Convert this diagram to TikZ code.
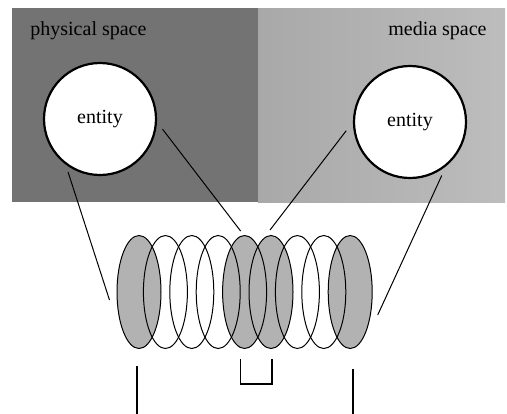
\documentclass[tikz,border=0pt]{standalone}
\usepackage{fontspec}
\setmainfont{Liberation Serif}
\usepackage{tikz}
\usetikzlibrary{shapes.geometric,calc}

\tikzset{
  ring/.style={ellipse,draw,line width=0.5pt,minimum width=22pt,minimum height=56.5pt,inner sep=0pt},
  entity/.style={circle,draw,line width=1.1pt,fill=white,minimum size=56pt,inner sep=0pt,font=\fontsize{10}{12}\selectfont},
  space/.style={font=\fontsize{10}{12}\selectfont,inner sep=0pt},
  link/.style={line width=0.5pt},
  bar/.style={line width=0.8pt},
}

\begin{document}
\begin{tikzpicture}[x=0.5pt,y=-0.5pt]
  \useasboundingbox (0,0) rectangle (507,413);
  % the two spaces
  \path[fill=black!55] (12,8) rectangle (258,202);
  \path[left color=black!34,right color=black!26] (258,8) rectangle (505,202);
  \path[left color=black!31.4,middle color=black!18,right color=black!30.8] (338,8) rectangle (358,202);
  \node[space,anchor=base west] (phys) at (30,35) {physical space};
  \node[space,anchor=base east] (media) at (487,35) {media space};
  \node[entity] (lc) at (100,119) {entity};
  \node[entity] (rc) at (410,122) {entity};
  % slices, shaded ones first
  \foreach \i in {1,5,6,9}{
    \path[fill=black!30] (112.6+26.4*\i, 292) ellipse (22 and 56.5);
  }
  \foreach \i in {1,2,...,9}{
    \node[ring] (e\i) at (112.6+26.4*\i, 292) {};
  }
  % links
  \path[draw,link,shorten <=3.8pt] (lc.233) -- ($(e1.west)+(-7,8)$);
  \path[draw,link,shorten <=4.5pt] (lc.-3) -- ($(e5.north)+(-4,-4)$);
  \path[draw,link,shorten <=5.5pt] (rc.180) -- ($(e6.north)+(-1,-5)$);
  \path[draw,link,shorten <=5pt] (rc.-51) -- ($(e9.east)+(5,23)$);
  % marks below
  \path[draw,bar] ($(e1.south)+(-2,17)$) -- ++(0,48);
  \path[draw,bar] ($(e9.south)+(3,20)$) -- ++(0,45);
  \path[draw,bar] ($(e5.south)+(-4,10)$) -- ++(0,25) -| ($(e6.south)+(1,10)$);
\end{tikzpicture}
\end{document}
